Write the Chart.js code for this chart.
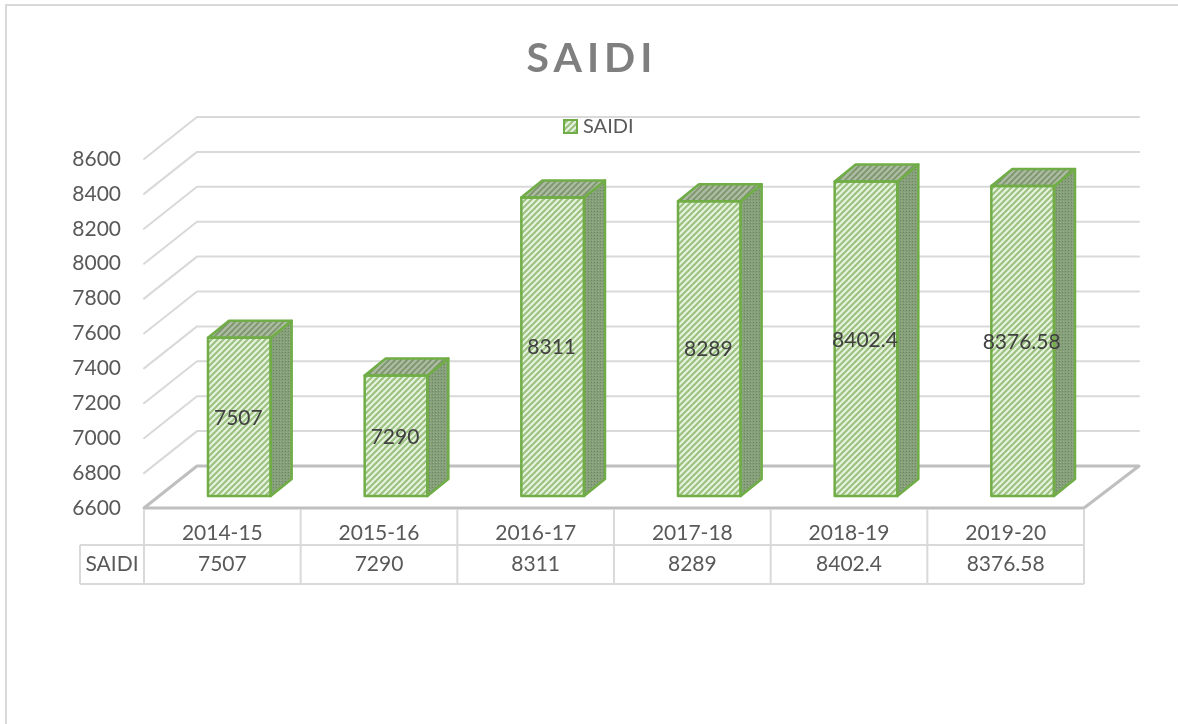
<!DOCTYPE html>
<html>
<head>
<meta charset="utf-8">
<style>html,body{margin:0;padding:0;background:#fff;overflow:hidden}canvas{display:block}</style>
<script src="https://cdn.jsdelivr.net/npm/chart.js@4/dist/chart.umd.min.js"></script>
</head>
<body>
<canvas id="c" width="1178" height="724"></canvas>
<script>
const categories = ["2014-15","2015-16","2016-17","2017-18","2018-19","2019-20"];
const saidiValues = [7507,7290,8311,8289,8402.4,8376.58];
const seriesName = "SAIDI";
const chartTitle = "SAIDI";
const axisMin = 6600, axisMax = 8600, axisStep = 200;

const FONT = "Lato";
const TEXT = "#595959", GRID = "#d9d9d9", FLOOR = "#bfbfbf", GREEN = "#70ad47";
const WALL = {dx:53, dy:-42};
const BAR_OFF = {dx:17, dy:-12};
const DEPTH = {dx:21, dy:-17};

function tile(size, draw){
  const t = document.createElement("canvas");
  t.width = t.height = size;
  draw(t.getContext("2d"), size);
  return t;
}
function diagTile(bg, fg, lw){
  return tile(6,(g,s)=>{
    g.fillStyle=bg; g.fillRect(0,0,s,s);
    g.strokeStyle=fg; g.lineWidth=lw;
    [[-s,s,s,-s],[0,s,s,0],[0,2*s,2*s,0]].forEach(l=>{g.beginPath();g.moveTo(l[0],l[1]);g.lineTo(l[2],l[3]);g.stroke();});
  });
}
const ctx0 = document.getElementById("c").getContext("2d");
const frontPattern = ctx0.createPattern(diagTile("#e8f4df","#9cc283",2.2),"repeat");
const topPattern = ctx0.createPattern(diagTile("#adbaa4","#7c966b",1.8),"repeat");
const sidePattern = ctx0.createPattern(tile(3,(g,s)=>{
  g.fillStyle="#86a07a"; g.fillRect(0,0,s,s);
  g.fillStyle="#6b8560"; g.fillRect(1,1,1,1);
  g.fillStyle="#9aab90"; g.fillRect(2,0,1,1);
}),"repeat");

const legendIcon = document.createElement("canvas");
legendIcon.width = legendIcon.height = 15;
(function(){
  const g = legendIcon.getContext("2d");
  g.fillStyle = g.createPattern(diagTile("#e8f4df","#9cc283",2.2),"repeat");
  g.fillRect(0,0,15,15);
  g.strokeStyle = GREEN; g.lineWidth = 2; g.strokeRect(1,1,13,13);
})();

const scene = {
  id:"scene",
  afterLayout(chart){
    const l = chart.legend;
    l.left = 560; l.right = l.left+200; l.top = 108.5; l.bottom = l.top+60;
    const t = chart.titleBlock;
    t.left = 0; t.right = 1184;
    if(!t._spaced){
      t._spaced = true;
      const d = t.draw;
      t.draw = function(){
        chart.ctx.letterSpacing = "5px"; d.call(this); chart.ctx.letterSpacing = "0px";
      };
    }
  },
  beforeDraw(chart){
    const {ctx, width, height, scales:{x,y}} = chart;
    ctx.save();
    ctx.fillStyle="#fff"; ctx.fillRect(0,0,width,height);
    ctx.strokeStyle=GRID; ctx.lineWidth=2;
    ctx.beginPath(); ctx.moveTo(6,height); ctx.lineTo(6,5); ctx.lineTo(width,5); ctx.stroke();

    const L = x.left, R = x.right;
    ctx.lineCap="round"; ctx.lineJoin="round";
    y.ticks.forEach(t=>{
      const py = y.getPixelForValue(t.value);
      if(t.value===axisMin) return;
      ctx.strokeStyle=GRID; ctx.lineWidth=2;
      ctx.beginPath();
      ctx.moveTo(L,py); ctx.lineTo(L+WALL.dx,py+WALL.dy); ctx.lineTo(R+WALL.dx+2,py+WALL.dy);
      ctx.stroke();
    });
    const b = y.getPixelForValue(axisMin);
    ctx.strokeStyle=FLOOR; ctx.lineWidth=3;
    ctx.beginPath();
    ctx.moveTo(L,b); ctx.lineTo(L+WALL.dx,b+WALL.dy); ctx.lineTo(R+WALL.dx+2,b+WALL.dy);
    ctx.lineTo(R,b); ctx.closePath(); ctx.stroke();
    // data table
    const rowA = 545, rowB = 584;
    ctx.strokeStyle=GRID; ctx.lineWidth=2; ctx.lineCap="butt";
    const colW = (R-L)/categories.length;
    ctx.beginPath();
    for(let i=0;i<=categories.length;i++){ ctx.moveTo(L+i*colW,b+1); ctx.lineTo(L+i*colW,rowB); }
    ctx.moveTo(80,rowA); ctx.lineTo(R,rowA);
    ctx.moveTo(80,rowB); ctx.lineTo(R,rowB);
    ctx.moveTo(80,rowA); ctx.lineTo(80,rowB);
    ctx.stroke();
    ctx.fillStyle=TEXT; ctx.font="21px "+FONT; ctx.textAlign="center"; ctx.textBaseline="middle";
    ctx.fillText(seriesName,(80+L)/2,564);
    saidiValues.forEach((v,i)=>ctx.fillText(String(v),x.getPixelForValue(i),564));
    ctx.restore();
  },
  beforeDatasetsDraw(chart){
    chart.ctx.save();
    chart.ctx.translate(BAR_OFF.dx,BAR_OFF.dy);
  },
  afterDatasetsDraw(chart){
    const {ctx} = chart;
    const bars = chart.getDatasetMeta(0).data;
    ctx.lineJoin="round"; ctx.lineWidth=2.5; ctx.strokeStyle=GREEN;
    bars.forEach(el=>{
      const l = el.x-el.width/2, r = el.x+el.width/2, t = el.y, b = el.base;
      ctx.beginPath();
      ctx.moveTo(r,t); ctx.lineTo(r+DEPTH.dx,t+DEPTH.dy); ctx.lineTo(r+DEPTH.dx,b+DEPTH.dy); ctx.lineTo(r,b); ctx.closePath();
      ctx.fillStyle=sidePattern; ctx.fill(); ctx.stroke();
      ctx.beginPath();
      ctx.moveTo(l,t); ctx.lineTo(l+DEPTH.dx,t+DEPTH.dy); ctx.lineTo(r+DEPTH.dx,t+DEPTH.dy); ctx.lineTo(r,t); ctx.closePath();
      ctx.fillStyle=topPattern; ctx.fill(); ctx.stroke();
      ctx.strokeRect(l,t,r-l,b-t);
    });
    ctx.fillStyle="#404040"; ctx.font="21px "+FONT; ctx.textAlign="center"; ctx.textBaseline="middle";
    bars.forEach((el,i)=>ctx.fillText(String(saidiValues[i]),el.x-1,(el.y+el.base)/2+1));
    ctx.restore();
  }
};

new Chart(document.getElementById("c"),{
  type:"bar",
  data:{labels:categories,datasets:[{
    label:seriesName,data:saidiValues,base:axisMin,
    backgroundColor:frontPattern,borderColor:GREEN,borderWidth:0,
    barPercentage:0.4,categoryPercentage:1,clip:false
  }]},
  plugins:[scene],
  options:{
    responsive:false,animation:false,
    layout:{padding:{left:0,top:0,right:94,bottom:0}},
    plugins:{
      tooltip:{enabled:false},
      title:{display:true,text:chartTitle,color:"#7f7f7f",
        font:{family:FONT,size:41,weight:"bold",lineHeight:1.2},
        padding:{top:34.4,bottom:75.4}},
      legend:{position:"chartArea",align:"start",
        labels:{color:TEXT,font:{family:FONT,size:20},padding:8,boxWidth:5,boxHeight:15,usePointStyle:true,
          generateLabels:()=>[{text:seriesName,pointStyle:legendIcon,fontColor:TEXT,datasetIndex:0,lineWidth:0}]}}
    },
    scales:{
      x:{grid:{display:false,drawTicks:false},border:{display:false},
        afterFit(s){s.height=216;},
        ticks:{color:TEXT,font:{family:FONT,size:21},padding:13,maxRotation:0}},
      y:{min:axisMin,max:axisMax,grid:{display:false,drawTicks:false},border:{display:false},
        afterFit(s){s.width=144;},
        ticks:{stepSize:axisStep,color:TEXT,font:{family:FONT,size:21},padding:23,callback:v=>String(v)}}
    }
  }
});
</script>
</body>
</html>
